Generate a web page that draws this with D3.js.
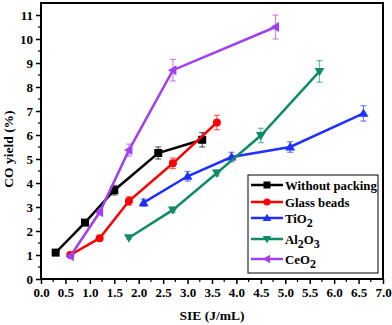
<!DOCTYPE html>
<html><head><meta charset="utf-8">
<script src="https://cdn.jsdelivr.net/npm/d3@7"></script>
<style>body{margin:0;background:#fff}svg{display:block}</style>
</head><body>
<script>
const seriesNames = ["Without packing","Glass beads","TiO2","Al2O3","CeO2"];
const colors = ["#000000","#ff0000","#1f2fff","#0f8c66","#a040f0"];
const symbols = ["square","circle","up","down","left"];
const xWithout = [0.3,0.9,1.5,2.4,3.3];
const yWithout = [1.1,2.35,3.7,5.25,5.8];
const eWithout = [0.05,0.1,0.2,0.25,0.3];
const xGlass = [0.6,1.2,1.8,2.7,3.6];
const yGlass = [1.0,1.7,3.25,4.82,6.52];
const eGlass = [0.05,0.08,0.18,0.22,0.3];
const xTiO2 = [2.1,3.0,3.9,5.1,6.6];
const yTiO2 = [3.18,4.28,5.08,5.5,6.9];
const eTiO2 = [0.15,0.2,0.2,0.22,0.32];
const xAl = [1.8,2.7,3.6,4.5,5.7];
const yAl = [1.72,2.88,4.42,5.98,8.65];
const eAl = [0.05,0.1,0.12,0.3,0.45];
const xCe = [0.6,1.2,1.8,2.7,4.8];
const yCe = [0.95,2.78,5.37,8.7,10.5];
const eCe = [0.05,0.1,0.25,0.45,0.5];
const xTicks = [0,0.5,1,1.5,2,2.5,3,3.5,4,4.5,5,5.5,6,6.5,7];
const yTicks = [0,1,2,3,4,5,6,7,8,9,10,11];

const FONT = "'Liberation Serif', 'Times New Roman', Times, serif";
const allX=[xWithout,xGlass,xTiO2,xAl,xCe], allY=[yWithout,yGlass,yTiO2,yAl,yCe], allE=[eWithout,eGlass,eTiO2,eAl,eCe];

const W=392,H=325, L=41, R=383, T=3, B=279;
const svg=d3.select("body").append("svg").attr("width",W).attr("height",H)
  .attr("font-family",FONT).attr("font-weight","bold");
const x=d3.scaleLinear().domain([0,7]).range([L,R]);
const y=d3.scaleLinear().domain([0,11.5]).range([B,T]);

function marker(g,type,cx,cy,color,s){
  let p;
  if(type==="square") p=g.append("rect").attr("x",cx-s/2).attr("y",cy-s/2).attr("width",s).attr("height",s);
  else if(type==="circle") p=g.append("circle").attr("cx",cx).attr("cy",cy).attr("r",s/2);
  else {
    const r=s*0.62; let pts;
    if(type==="up") pts=[[cx,cy-r],[cx-r,cy+r*0.7],[cx+r,cy+r*0.7]];
    else if(type==="down") pts=[[cx,cy+r],[cx-r,cy-r*0.7],[cx+r,cy-r*0.7]];
    else pts=[[cx-r,cy],[cx+r*0.7,cy-r],[cx+r*0.7,cy+r]];
    p=g.append("polygon").attr("points",pts.map(d=>d.join(",")).join(" "));
  }
  p.attr("fill",color);
}

const xAxis=d3.axisBottom(x).tickValues(xTicks).tickFormat(d3.format(".1f")).tickSize(5).tickPadding(4);
const gx=svg.append("g").attr("transform",`translate(0,${B})`).call(xAxis);
const yAxis=d3.axisLeft(y).tickValues(yTicks).tickFormat(d3.format("d")).tickSize(5).tickPadding(3);
const gy=svg.append("g").attr("transform",`translate(${L},0)`).call(yAxis);
[gx,gy].forEach(g=>{g.attr("font-family",FONT).attr("font-size",13);g.select(".domain").remove();g.selectAll("text").attr("fill","#000");g.selectAll("line").attr("stroke","#000").attr("stroke-width",1.5);});
svg.append("g").selectAll("line").data(d3.range(0.25,7,0.5)).join("line")
  .attr("x1",d=>x(d)).attr("x2",d=>x(d)).attr("y1",B).attr("y2",B+3).attr("stroke","#000").attr("stroke-width",1.2);
svg.append("g").selectAll("line").data(d3.range(0.5,11.5,1)).join("line")
  .attr("x1",L).attr("x2",L-3).attr("y1",d=>y(d)).attr("y2",d=>y(d)).attr("stroke","#000").attr("stroke-width",1.2);
svg.append("rect").attr("x",L).attr("y",T).attr("width",R-L).attr("height",B-T).attr("fill","none").attr("stroke","#000").attr("stroke-width",2);

allX.forEach((xs,i)=>{
  const g=svg.append("g");
  const pts=xs.map((v,j)=>[v,allY[i][j],allE[i][j]]);
  g.append("path").datum(pts).attr("fill","none").attr("stroke",colors[i]).attr("stroke-width",2.5)
    .attr("d",d3.line().x(d=>x(d[0])).y(d=>y(d[1])));
  pts.forEach(d=>{
    const cx=x(d[0]), y1=y(d[1]-d[2]), y2=y(d[1]+d[2]);
    const eg=g.append("g").attr("stroke",colors[i]).attr("stroke-opacity",0.6).attr("stroke-width",1.2);
    eg.append("line").attr("x1",cx).attr("x2",cx).attr("y1",y1).attr("y2",y2);
    eg.append("line").attr("x1",cx-3).attr("x2",cx+3).attr("y1",y1).attr("y2",y1);
    eg.append("line").attr("x1",cx-3).attr("x2",cx+3).attr("y1",y2).attr("y2",y2);
    marker(g,symbols[i],cx,y(d[1]),colors[i],8);
  });
});

const lg=svg.append("g");
lg.append("rect").attr("x",248).attr("y",175).attr("width",130).attr("height",98).attr("fill","#fff").attr("stroke","#000").attr("stroke-width",1);
const legY=[185,202,218,239,259];
seriesNames.forEach((n,i)=>{
  const yy=legY[i];
  lg.append("line").attr("x1",251).attr("x2",283).attr("y1",yy).attr("y2",yy).attr("stroke",colors[i]).attr("stroke-width",2.5);
  marker(lg,symbols[i],267,yy,colors[i],7);
  const t=lg.append("text").attr("x",285).attr("y",yy+4.5).attr("font-size",12.8).attr("fill","#000");
  if(n==="TiO2"){t.append("tspan").text("TiO");t.append("tspan").attr("dy",4).attr("font-size",12).text("2");}
  else if(n==="Al2O3"){t.append("tspan").text("Al");t.append("tspan").attr("dy",4).attr("font-size",12).text("2");t.append("tspan").attr("dy",-4).text("O");t.append("tspan").attr("dy",4).attr("font-size",12).text("3");}
  else if(n==="CeO2"){t.append("tspan").text("CeO");t.append("tspan").attr("dy",4).attr("font-size",12).text("2");}
  else t.text(n);
});

svg.append("text").attr("x",212).attr("y",320).attr("text-anchor","middle").attr("font-size",13.5).text("SIE (J/mL)");
svg.append("text").attr("transform","translate(13,149) rotate(-90)").attr("text-anchor","middle").attr("font-size",13.5).text("CO yield (%)");
</script>
</body></html>
